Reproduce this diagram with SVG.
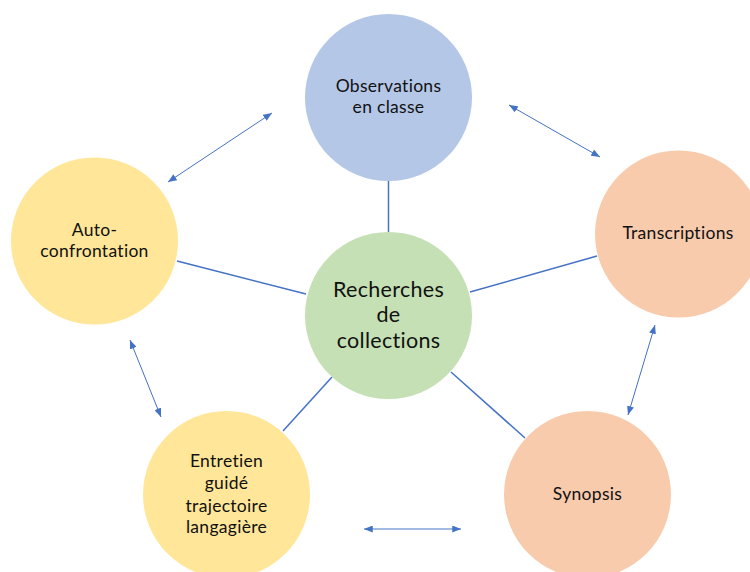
<svg xmlns="http://www.w3.org/2000/svg" width="750" height="572" viewBox="0 0 750 572">
<style>
.t{font-family:Lato,"Open Sans","Liberation Sans",sans-serif;font-size:17.5px;fill:#111;text-anchor:middle;font-variant-ligatures:none;letter-spacing:0.3px}
.big{font-size:21.5px}
.ln{stroke:#4472C4;stroke-width:1.5;fill:none}
.ar{stroke:#4472C4;stroke-width:1;fill:none;marker-start:url(#ah);marker-end:url(#ah)}
</style>
<defs>
<marker id="ah" viewBox="0 0 10 8" refX="10" refY="4" markerWidth="9" markerHeight="7" markerUnits="userSpaceOnUse" orient="auto-start-reverse">
<path d="M0,0 L10,4 L0,8 z" fill="#4472C4"/>
</marker>
</defs>
<rect width="750" height="572" fill="#fff"/>
<g id="connectors">
<line class="ln" x1="388.5" y1="181" x2="388.5" y2="232"/>
<line class="ln" x1="177" y1="261" x2="306" y2="294"/>
<line class="ln" x1="597" y1="256" x2="470" y2="292"/>
<line class="ln" x1="332" y1="377" x2="283" y2="431"/>
<line class="ln" x1="451" y1="372" x2="525" y2="438"/>
<line class="ar" x1="168" y1="182" x2="272" y2="113"/>
<line class="ar" x1="509" y1="105" x2="600" y2="157"/>
<line class="ar" x1="130" y1="340" x2="161" y2="417"/>
<line class="ar" x1="655" y1="325" x2="628" y2="415"/>
<line class="ar" x1="364" y1="529" x2="461" y2="529"/>
</g>
<g id="observations">
<circle cx="388.5" cy="97.5" r="83.5" fill="#B4C7E7"/>
<text class="t" x="388.5" y="92">Observations</text>
<text class="t" x="388.5" y="113">en classe</text>
</g>
<g id="recherches">
<circle cx="388.5" cy="315.5" r="83.5" fill="#C5E0B4"/>
<text class="t big" x="388.5" y="297">Recherches</text>
<text class="t big" x="388.5" y="322">de</text>
<text class="t big" x="388.5" y="348">collections</text>
</g>
<g id="autoconfrontation">
<circle cx="94.5" cy="241" r="83.5" fill="#FFE699"/>
<text class="t" x="94.5" y="236">Auto-</text>
<text class="t" x="94.5" y="257">confrontation</text>
</g>
<g id="transcriptions">
<circle cx="678.5" cy="234" r="83.5" fill="#F8CBAD"/>
<text class="t" x="678" y="239">Transcriptions</text>
</g>
<g id="synopsis">
<circle cx="587.5" cy="494.5" r="83.5" fill="#F8CBAD"/>
<text class="t" x="587.5" y="500">Synopsis</text>
</g>
<g id="entretien">
<circle cx="226.5" cy="494.5" r="83.5" fill="#FFE699"/>
<text class="t" x="226.5" y="467">Entretien</text>
<text class="t" x="226.5" y="489">guidé</text>
<text class="t" x="226.5" y="512">trajectoire</text>
<text class="t" x="226.5" y="533">langagière</text>
</g>
</svg>
